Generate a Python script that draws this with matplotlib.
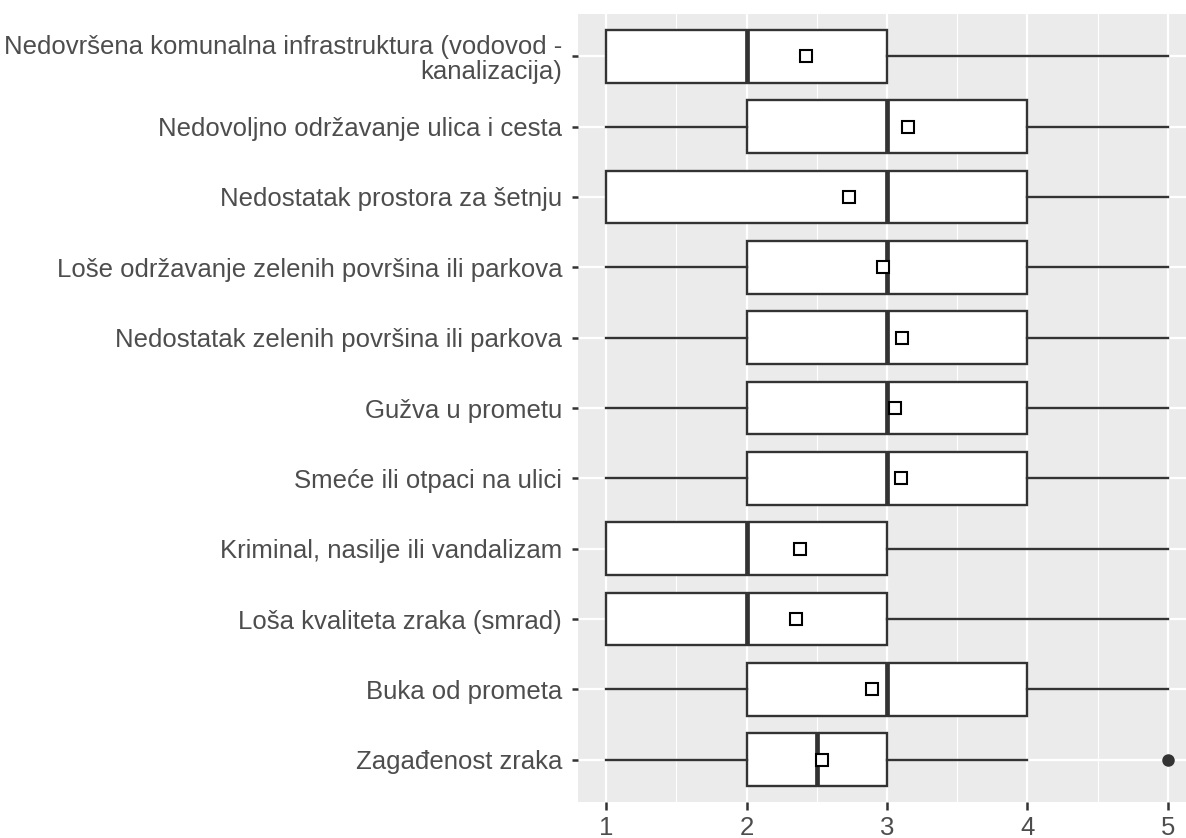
import matplotlib
matplotlib.use("Agg")
import matplotlib.pyplot as plt
from matplotlib.ticker import MultipleLocator

# Categories listed bottom to top
categories = [
    "Zagađenost zraka",
    "Buka od prometa",
    "Loša kvaliteta zraka (smrad)",
    "Kriminal, nasilje ili vandalizam",
    "Smeće ili otpaci na ulici",
    "Gužva u prometu",
    "Nedostatak zelenih površina ili parkova",
    "Loše održavanje zelenih površina ili parkova",
    "Nedostatak prostora za šetnju",
    "Nedovoljno održavanje ulica i cesta",
    "Nedovršena komunalna infrastruktura (vodovod -\nkanalizacija)",
]
whisker_low = [1, 1, 1, 1, 1, 1, 1, 1, 1, 1, 1]
q1 = [2, 2, 1, 1, 2, 2, 2, 2, 1, 2, 1]
median = [2.5, 3, 2, 2, 3, 3, 3, 3, 3, 3, 2]
q3 = [3, 4, 3, 3, 4, 4, 4, 4, 4, 4, 3]
whisker_high = [4, 5, 5, 5, 5, 5, 5, 5, 5, 5, 5]
means = [2.54, 2.89, 2.35, 2.38, 3.10, 3.06, 3.11, 2.97, 2.73, 3.15, 2.42]
outliers = [[5], [], [], [], [], [], [], [], [], [], []]
x_ticks = [1, 2, 3, 4, 5]

plt.rcParams['font.family'] = ['Liberation Sans', 'DejaVu Sans']

W, H = 1186, 838
fig = plt.figure(figsize=(W / 100, H / 100), dpi=100)
left_px, right_px, top_px, bottom_px = 578, 1196, 14, 802
ax = fig.add_axes([left_px / W, 1 - bottom_px / H, (right_px - left_px) / W, (bottom_px - top_px) / H])

line_col = "#333333"
stats = []
for i in range(len(categories)):
    stats.append(dict(whislo=whisker_low[i], q1=q1[i], med=median[i], q3=q3[i],
                      whishi=whisker_high[i], mean=means[i], fliers=outliers[i]))

positions = list(range(1, len(categories) + 1))
ax.bxp(stats, positions=positions, widths=0.75, orientation='horizontal',
       patch_artist=True, showmeans=True, showcaps=False,
       boxprops=dict(facecolor="white", edgecolor=line_col, linewidth=1.7),
       whiskerprops=dict(color=line_col, linewidth=1.7),
       medianprops=dict(color=line_col, linewidth=3.4, solid_capstyle='butt'),
       meanprops=dict(marker='s', markerfacecolor='white', markeredgecolor='black',
                      markersize=8, markeredgewidth=1.5),
       flierprops=dict(marker='o', markerfacecolor=line_col, markeredgecolor=line_col,
                       markersize=8),
       zorder=3)

ax.set_facecolor("#EBEBEB")
ax.set_xlim(0.8, 5.2)
ax.set_ylim(0.4, len(categories) + 0.6)
ax.set_xticks(x_ticks)
ax.set_xticklabels([str(t) for t in x_ticks])
ax.xaxis.set_minor_locator(MultipleLocator(0.5))
ax.set_yticks(positions)
ax.set_yticklabels(categories)
ax.grid(which='major', color='white', linewidth=1.6, zorder=0)
ax.grid(which='minor', axis='x', color='white', linewidth=0.8, zorder=0)
ax.set_axisbelow(True)
for s in ax.spines.values():
    s.set_visible(False)
ax.tick_params(axis='both', which='major', colors=line_col, width=1.8,
               labelsize=18.5, labelcolor="#4D4D4D")
ax.tick_params(axis='y', which='major', length=4.5, pad=7)
ax.tick_params(axis='x', which='major', length=5.8, pad=4)
ax.tick_params(axis='x', which='minor', length=0)
for lab in ax.get_yticklabels():
    lab.set_horizontalalignment('right')
    lab.set_multialignment('right')
    lab.set_linespacing(1.05)

fig.savefig("out.png", dpi=100)
